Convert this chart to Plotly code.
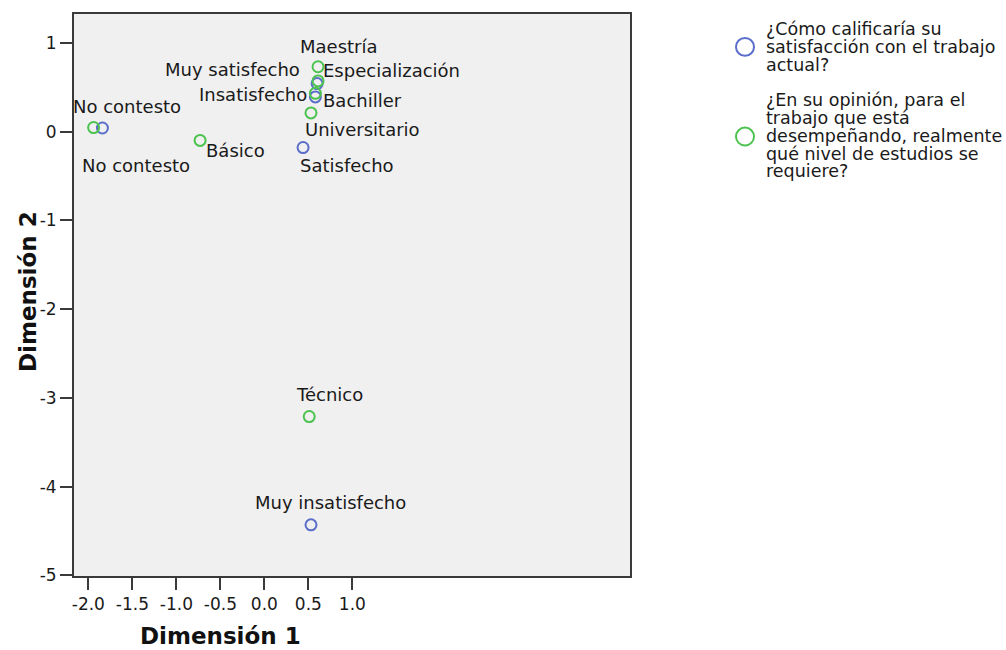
import plotly.graph_objects as go

# ---------------- data ----------------
sat_labels = ["No contesto", "Muy satisfecho", "Satisfecho", "Insatisfecho", "Muy insatisfecho"]
sat_dim1 = [-1.84, 0.60, 0.44, 0.58, 0.53]
sat_dim2 = [0.04, 0.54, -0.18, 0.39, -4.43]

edu_labels = ["No contesto", "Básico", "Bachiller", "Técnico", "Universitario", "Especialización", "Maestría"]
edu_dim1 = [-1.94, -0.73, 0.58, 0.51, 0.53, 0.61, 0.61]
edu_dim2 = [0.045, -0.10, 0.43, -3.21, 0.21, 0.57, 0.73]

x_ticks = [-2.0, -1.5, -1.0, -0.5, 0.0, 0.5, 1.0]
y_ticks = [-5, -4, -3, -2, -1, 0, 1]

sat_name = "¿Cómo calificaría su<br>satisfacción con el trabajo<br>actual?"
edu_name = ("¿En su opinión, para el<br>trabajo que está<br>desempeñando, realmente<br>"
            "qué nivel de estudios se<br>requiere?")
legend_lines_sat = ["¿Cómo calificaría su", "satisfacción con el trabajo", "actual?"]
legend_lines_edu = ["¿En su opinión, para el", "trabajo que está", "desempeñando, realmente",
                    "qué nivel de estudios se", "requiere?"]

# ---------------- style ----------------
W, H = 1006, 650
ML, MR, MT, MB = 74, 376, 12, 74
PW, PH = W - ML - MR, H - MT - MB
BLUE = "#5b6ec9"
GREEN = "#4cc24f"
AX = "#3a3a3a"
FONT = "DejaVu Sans"
TXT = "#1a1a1a"

# label offsets (pixels: dx right, dy down) for each point label
sat_off = [(34, 37), (-85, -14), (44, 18), (-62, -2), (20, -22)]
edu_off = [(33, -21), (35, 10), (47, 7), (20, -22), (52, 17), (73, -10), (21, -20)]


def px_x(px):
    return (px - ML) / PW


def px_y(py):
    return (H - MB - py) / PH


fig = go.Figure()
fig.add_trace(go.Scatter(
    x=sat_dim1, y=sat_dim2, mode="markers", name=sat_name,
    marker=dict(symbol="circle-open", size=11, color=BLUE, line=dict(width=2, color=BLUE)),
    hovertext=sat_labels))
fig.add_trace(go.Scatter(
    x=edu_dim1, y=edu_dim2, mode="markers", name=edu_name,
    marker=dict(symbol="circle-open", size=11, color=GREEN, line=dict(width=2, color=GREEN)),
    hovertext=edu_labels))

ann = []
for xs, ys, labs, offs in [(sat_dim1, sat_dim2, sat_labels, sat_off),
                           (edu_dim1, edu_dim2, edu_labels, edu_off)]:
    for xv, yv, lab, (dx, dy) in zip(xs, ys, labs, offs):
        ann.append(dict(x=xv, y=yv, xref="x", yref="y", text=lab, showarrow=False,
                        xanchor="center", yanchor="middle", xshift=dx, yshift=-dy,
                        font=dict(family=FONT, size=18, color=TXT)))

# axis titles
ann.append(dict(x=px_x(220), y=px_y(636), xref="paper", yref="paper", text="<b>Dimensión 1</b>",
                showarrow=False, xanchor="center", yanchor="middle",
                font=dict(family=FONT, size=23, color="#111")))
ann.append(dict(x=px_x(28), y=px_y(291), xref="paper", yref="paper", text="<b>Dimensión 2</b>",
                showarrow=False, xanchor="center", yanchor="middle", textangle=-90,
                font=dict(family=FONT, size=23, color="#111")))

# manual legend
sat_line_y = [27, 45, 63]
edu_line_y = [98, 116, 134, 152, 170]
for lines, ys in [(legend_lines_sat, sat_line_y), (legend_lines_edu, edu_line_y)]:
    for t, yy in zip(lines, ys):
        ann.append(dict(x=px_x(764), y=px_y(yy), xref="paper", yref="paper", text=t,
                        showarrow=False, xanchor="left", yanchor="middle",
                        font=dict(family=FONT, size=17.5, color=TXT)))

shapes = []
for cy, col in [(45, BLUE), (135, GREEN)]:
    shapes.append(dict(type="circle", xref="paper", yref="paper",
                       x0=px_x(736), x1=px_x(754), y0=px_y(cy + 9), y1=px_y(cy - 9),
                       line=dict(color=col, width=2)))

fig.update_layout(
    width=W, height=H,
    margin=dict(l=ML, r=MR, t=MT, b=MB, pad=0),
    paper_bgcolor="white", plot_bgcolor="#f0f0f0",
    showlegend=False,
    annotations=ann, shapes=shapes,
    font=dict(family=FONT, color=TXT),
)
fig.update_xaxes(range=[-2.163, 4.155], tickvals=x_ticks,
                 ticktext=[f"{v:.1f}" for v in x_ticks],
                 showgrid=False, zeroline=False, showline=True, mirror=True,
                 linecolor=AX, linewidth=2, ticks="outside", ticklen=12, tickwidth=2,
                 tickcolor=AX, tickfont=dict(family=FONT, size=17, color=TXT))
fig.update_yaxes(range=[-5.006, 1.324], tickvals=y_ticks,
                 ticktext=[str(v) for v in y_ticks],
                 showgrid=False, zeroline=False, showline=True, mirror=True,
                 linecolor=AX, linewidth=2, ticks="outside", ticklen=12, tickwidth=2,
                 tickcolor=AX, tickfont=dict(family=FONT, size=17, color=TXT))

fig.write_html("out.html", config={"displayModeBar": False},
               post_script="document.body.style.margin='0px';document.body.style.overflow='hidden';")
